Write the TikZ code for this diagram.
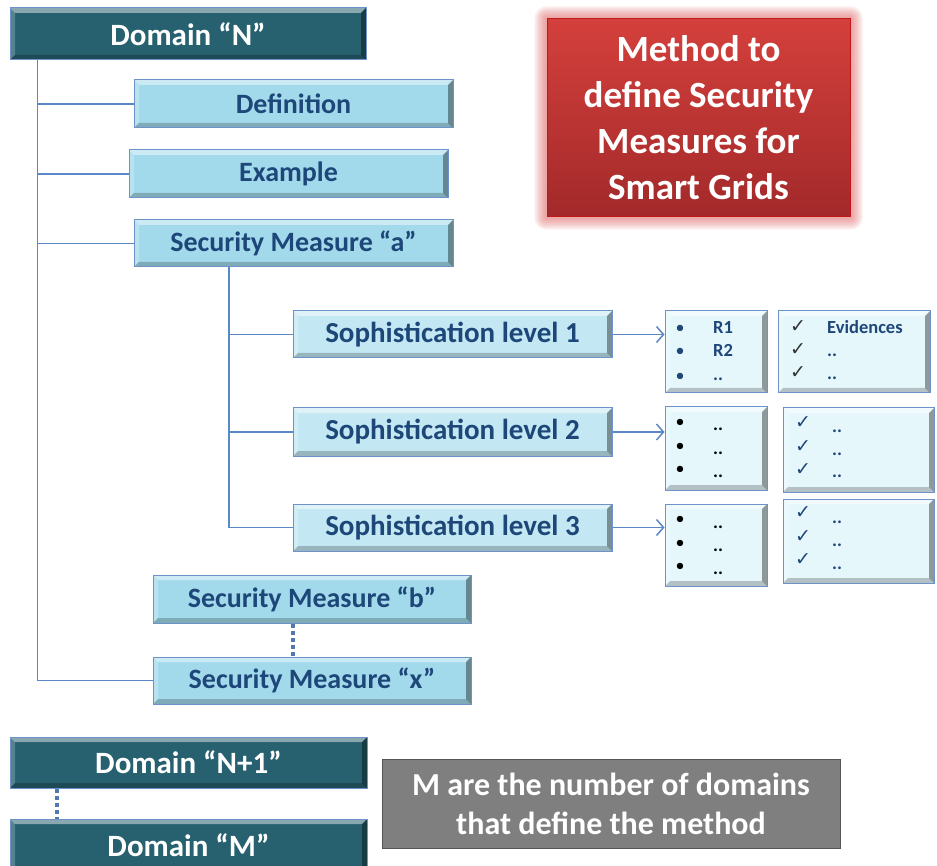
\documentclass[tikz,border=0pt]{standalone}
\usepackage{fontspec}
\setmainfont{Carlito}
\newfontfamily\symfont{DejaVu Sans}
\usetikzlibrary{arrows.meta}
\pgfdeclarelayer{glow}
\pgfsetlayers{glow,main}

\definecolor{domfill}{HTML}{27606F}
\definecolor{boxedge}{HTML}{6E93C9}
\definecolor{lineblue}{HTML}{5A87C5}
\definecolor{txtblue}{HTML}{1D4679}
\definecolor{itemfill}{HTML}{A3DAEB}
\definecolor{levelfill}{HTML}{C3E8F3}
\definecolor{listfill}{HTML}{E6F7FC}
\definecolor{redtop}{HTML}{D4403C}
\definecolor{redbot}{HTML}{A3292A}
\definecolor{rededge}{HTML}{C01818}
\definecolor{glowred}{HTML}{E06060}
\definecolor{notefill}{HTML}{7F7F7F}
\definecolor{noteedge}{HTML}{555555}

\newcommand\bevw{5pt}

\tikzset{
  bev/.style={path picture={
    \path (path picture bounding box.north west) coordinate (bNW)
          (path picture bounding box.north east) coordinate (bNE)
          (path picture bounding box.south west) coordinate (bSW)
          (path picture bounding box.south east) coordinate (bSE);
    \fill[white,opacity=.45] (bNW) -- (bNE) -- ([xshift=-\bevw,yshift=-\bevw]bNE) -- ([xshift=\bevw,yshift=-\bevw]bNW) -- cycle;
    \fill[white,opacity=.22] (bNW) -- ([xshift=\bevw,yshift=-\bevw]bNW) -- ([xshift=\bevw,yshift=\bevw]bSW) -- (bSW) -- cycle;
    \fill[black,opacity=.38] (bNE) -- (bSE) -- ([xshift=-\bevw,yshift=\bevw]bSE) -- ([xshift=-\bevw,yshift=-\bevw]bNE) -- cycle;
    \fill[black,opacity=.22] (bSW) -- ([xshift=\bevw,yshift=\bevw]bSW) -- ([xshift=-\bevw,yshift=\bevw]bSE) -- (bSE) -- cycle;
  }},
  anybox/.style={rectangle, inner sep=0pt, draw=boxedge, line width=1pt, bev},
  dombox/.style={anybox, fill=domfill, text=white,
    font=\bfseries\fontsize{31}{36}\selectfont},
  itembox/.style={anybox, fill=itemfill, text=txtblue,
    font=\bfseries\fontsize{28}{33}\selectfont},
  levelbox/.style={anybox, fill=levelfill, text=txtblue,
    font=\bfseries\fontsize{29}{34}\selectfont},
  listbox/.style={anybox, fill=listfill},
  entrytext/.style={inner sep=0pt, anchor=base west, text=txtblue,
    font=\bfseries\fontsize{18.5}{21}\selectfont},
  bulmark/.style={inner sep=0pt, font=\fontsize{18}{21}\selectfont},
  chkmark/.style={inner sep=0pt, font=\symfont\fontsize{19}{22}\selectfont},
  conn/.style={draw=lineblue, line width=1.5pt},
  dotline/.style={draw=lineblue!90!black, line width=4pt, dash pattern=on 4pt off 3pt},
  arrline/.style={conn, -{Straight Barb[length=7pt,width=16pt,line width=1.5pt]}},
}

\begin{document}
\begin{tikzpicture}[x=1pt, y=-1pt]
\useasboundingbox (0,0) rectangle (937,866);
\clip (0,0) rectangle (937,866);
\begin{pgfonlayer}{glow}
  \fill[white] (0,0) rectangle (937,866);
\end{pgfonlayer}

% title panel
\node[rectangle, inner sep=0pt, draw=rededge, line width=1pt,
      top color=redtop, bottom color=redbot,
      minimum width=303pt, minimum height=198pt,
      text=white, align=center, font=\bfseries\fontsize{37}{46}\selectfont]
  (title) at (698.5,118) {Method to\\define Security\\Measures for\\Smart Grids};
\begin{pgfonlayer}{glow}
  \foreach \g in {12,10,8,6,4,2}{
    \fill[glowred, opacity=0.12, rounded corners=\g pt]
      ([xshift=-\g pt,yshift=\g pt]title.north west) rectangle
      ([xshift=\g pt,yshift=-\g pt]title.south east);
  }
\end{pgfonlayer}

% domain tree
\node[dombox, minimum width=356pt, minimum height=52pt] (domN) at (188,34) {Domain “N”};
\node[itembox, minimum width=319pt, minimum height=48pt] (defn) at (293.5,104) {Definition};
\node[itembox, minimum width=319pt, minimum height=48pt] (exmp) at (288.5,174) {Example};
\node[itembox, minimum width=319pt, minimum height=47pt] (sma) at (293.5,243.5) {Security Measure “a”};
\node[itembox, minimum width=318pt, minimum height=48pt] (smb) at (312,599) {Security Measure “b”};
\node[itembox, minimum width=318pt, minimum height=47pt] (smx) at (312,680.5) {Security Measure “x”};

\coordinate (trunk) at ([xshift=28pt]domN.south west);
\draw[conn] (trunk) |- (smx.west);
\draw[conn] (defn.west) -- (defn.west -| trunk);
\draw[conn] (exmp.west) -- (exmp.west -| trunk);
\draw[conn] (sma.west) -- (sma.west -| trunk);
\draw[dotline] ([xshift=-19pt]smb.south) -- ([xshift=-19pt]smx.north);

% sophistication levels
\node[levelbox, minimum width=319pt, minimum height=47pt] (s1) at (452.5,334.5) {Sophistication level 1};
\node[levelbox, minimum width=319pt, minimum height=48pt] (s2) at (452.5,432) {Sophistication level 2};
\node[levelbox, minimum width=319pt, minimum height=47pt] (s3) at (452.5,527.5) {Sophistication level 3};

\coordinate (sub) at ([xshift=-64.5pt]sma.south);
\draw[conn] (sub) |- (s3.west);
\draw[conn] (s1.west) -- (s1.west -| sub);
\draw[conn] (s2.west) -- (s2.west -| sub);

% requirement lists
\node[listbox, minimum width=102pt, minimum height=82pt] (l1) at (716,352) {};
\node[listbox, minimum width=102pt, minimum height=83pt] (l2) at (716,448.5) {};
\node[listbox, minimum width=102pt, minimum height=82pt] (l3) at (716,545) {};

\draw[arrline] (s1.east) -- (s1.east -| l1.west);
\draw[arrline] (s2.east) -- (s2.east -| l2.west);
\draw[arrline] (s3.east) -- (s3.east -| l3.west);

% evidence lists
\node[listbox, minimum width=152pt, minimum height=82pt] (e1) at (854,352) {};
\node[listbox, minimum width=151pt, minimum height=84pt] (e2) at (858.5,450) {};
\node[listbox, minimum width=151pt, minimum height=84pt] (e3) at (858.5,541) {};

% list entries: first list
\foreach \y in {329,352,377} \node[bulmark, text=txtblue] at (680,\y) {•};
\node[entrytext] at (713,334) {R1};
\node[entrytext] at (713,357) {R2};
\node[entrytext] at (713,381) {..};
% second and third lists
\foreach \y in {423,447,470} \node[bulmark, text=black] at (680,\y) {•};
\foreach \y in {431,454,477} \node[entrytext, text=black] at (713,\y) {..};
\foreach \y in {520,544,567} \node[bulmark, text=black] at (680,\y) {•};
\foreach \y in {528,551,574} \node[entrytext, text=black] at (713,\y) {..};

% evidence entries
\foreach \y in {327,350,373} \node[chkmark, text=black!80] at (798,\y) {✓};
\node[entrytext] at (827,334) {Evidences};
\node[entrytext] at (827,357) {..};
\node[entrytext] at (827,380) {..};
\foreach \y in {423,447,470} \node[chkmark, text=txtblue] at (803,\y) {✓};
\foreach \y in {432,455,477} \node[entrytext] at (832,\y) {..};
\foreach \y in {513,537,560} \node[chkmark, text=txtblue] at (803,\y) {✓};
\foreach \y in {523,546,569} \node[entrytext] at (832,\y) {..};

% further domains
\node[dombox, minimum width=357pt, minimum height=51pt] (domN1) at (188.5,762.5) {Domain “N+1”};
\node[dombox, minimum width=357pt, minimum height=52pt] (domM) at (188.5,845) {Domain “M”};
\draw[dotline] ([xshift=47pt]domN1.south west) -- ([xshift=47pt]domM.north west);

% note
\node[rectangle, inner sep=0pt, draw=noteedge, line width=1pt, fill=notefill,
      minimum width=458pt, minimum height=89pt, text=white, align=center,
      font=\bfseries\fontsize{32}{39}\selectfont]
  (note) at (611,803.5) {M are the number of domains\\that define the method};
\end{tikzpicture}
\end{document}
